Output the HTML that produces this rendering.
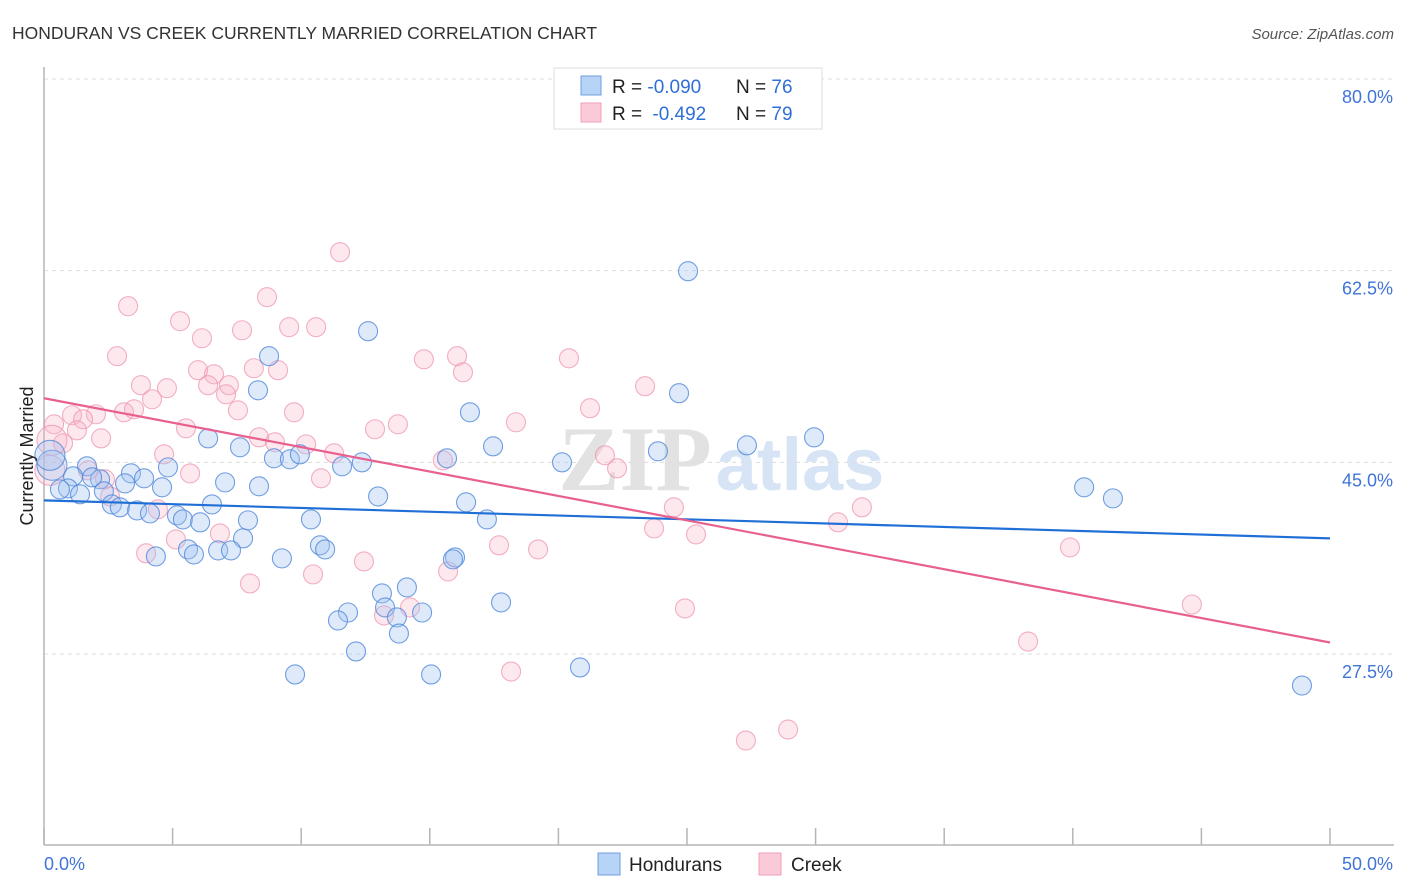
<!DOCTYPE html>
<html><head><meta charset="utf-8">
<style>
body{margin:0;background:#fff;font-family:"Liberation Sans",sans-serif;}
svg{display:block}
</style></head>
<body>
<svg id="chart" width="1406" height="892">
<text x="12" y="39" font-size="17.5" fill="#333">HONDURAN VS CREEK CURRENTLY MARRIED CORRELATION CHART</text>
<text x="1394" y="39" font-size="15" fill="#555" font-style="italic" text-anchor="end">Source: ZipAtlas.com</text>
<g>
<text x="635" y="490" font-size="92" fill="#e2e2e2" text-anchor="middle" font-family="Liberation Serif,serif" font-weight="bold">ZIP</text>
<text x="800" y="490" font-size="74" fill="#d6e4f6" text-anchor="middle" font-weight="bold">atlas</text>
</g>
<g id="grid"></g>
<g id="axes"></g>
<g id="pts"></g>
<g id="lines"></g>
<text transform="translate(33,456) rotate(-90)" font-size="18" fill="#222" text-anchor="middle">Currently Married</text>
<g>
<rect x="554" y="68" width="268" height="61" fill="#fff" stroke="#ddd"/>
<rect x="581" y="76" width="20" height="19" fill="#b7d3f5" stroke="#6f9fe0"/>
<rect x="581" y="103" width="20" height="19" fill="#fbcad8" stroke="#f0a0b8"/>
<text x="612" y="93" font-size="19" fill="#222">R = <tspan fill="#2f6fd6">-0.090</tspan></text>
<text x="736" y="93" font-size="19" fill="#222">N = <tspan fill="#2f6fd6">76</tspan></text>
<text x="612" y="120" font-size="19" fill="#222">R = <tspan fill="#2f6fd6" dx="5">-0.492</tspan></text>
<text x="736" y="120" font-size="19" fill="#222">N = <tspan fill="#2f6fd6">79</tspan></text>
</g>
<g>
<rect x="598" y="853" width="22" height="22" fill="#b7d3f5" stroke="#6f9fe0"/>
<text x="629" y="871" font-size="19" fill="#222">Hondurans</text>
<rect x="759" y="853" width="22" height="22" fill="#fbcad8" stroke="#f0a0b8"/>
<text x="791" y="871" font-size="19" fill="#222">Creek</text>
</g>
</svg>
<script>
const yTicks=[80.0,62.5,45.0,27.5];
const yTickLabels=["80.0%","62.5%","45.0%","27.5%"];
const xTickValues=[0,5,10,15,20,25,30,35,40,45,50];
const xEndLabels=["0.0%","50.0%"];
const blueX=[25.04,12.60,8.75,8.32,24.69,16.56,29.94,27.33,6.38,7.62,17.46,23.87,15.67,8.94,9.56,9.95,11.59,12.36,20.14,4.82,1.67,3.38,3.89,2.18,1.87,1.13,7.04,4.59,3.15,0.93,0.62,1.40,2.33,8.36,12.99,40.44,41.56,6.53,16.41,2.64,2.95,3.62,4.12,5.17,5.40,6.07,7.93,10.38,17.22,7.74,10.73,10.93,6.77,7.27,5.60,5.83,4.35,9.25,15.98,15.90,13.14,14.11,11.82,11.43,13.26,13.72,14.70,13.80,12.13,17.77,20.84,9.76,15.05,48.91,0.31,0.23];
const blueY=[62.45,56.97,54.69,51.58,51.31,49.57,47.28,46.55,47.19,46.37,46.46,46.01,45.37,45.37,45.28,45.73,44.64,45.00,45.00,44.54,44.64,44.00,43.54,43.45,43.63,43.72,43.17,42.72,43.08,42.62,42.53,42.08,42.35,42.81,41.89,42.72,41.71,41.16,41.35,41.16,40.89,40.61,40.34,40.16,39.79,39.52,39.70,39.79,39.79,38.06,37.42,37.05,36.96,36.96,37.05,36.59,36.41,36.23,36.32,36.14,33.03,33.58,31.29,30.56,31.75,30.84,31.29,29.37,27.73,32.21,26.27,25.63,25.63,24.62,44.73,45.64];
const pinkX=[11.51,8.67,3.27,5.29,9.53,10.58,7.70,6.14,2.84,16.06,14.77,20.41,16.29,8.16,9.10,5.99,6.61,3.77,4.78,6.38,7.19,23.37,7.08,4.20,7.54,3.11,3.50,2.02,1.09,1.52,21.23,18.35,9.72,13.76,12.87,0.39,1.28,5.52,2.22,0.74,8.36,8.98,10.19,11.28,4.67,15.51,21.81,22.28,5.68,1.71,10.77,2.37,2.57,4.43,24.49,31.80,30.87,23.72,25.35,6.84,5.13,17.69,19.21,3.97,12.44,39.89,15.71,10.46,8.01,44.63,24.92,14.23,13.22,38.26,18.16,28.93,27.29,0.31,0.23];
const pinkY=[64.19,60.08,59.26,57.89,57.34,57.34,57.06,56.33,54.69,54.69,54.41,54.50,53.22,53.59,53.41,53.41,53.04,52.04,51.77,52.04,52.04,51.95,51.21,50.76,49.75,49.57,49.84,49.39,49.30,48.93,49.94,48.66,49.57,48.47,48.02,48.47,47.92,48.11,47.19,46.74,47.28,46.83,46.64,45.82,45.73,45.18,45.64,44.45,43.99,44.27,43.54,43.45,41.89,40.71,40.89,40.89,39.52,38.97,38.42,38.51,37.96,37.42,37.05,36.69,35.95,37.23,35.04,34.77,33.94,32.02,31.66,31.75,31.02,28.64,25.90,20.60,19.60,47.01,44.27];
const blueTrend=[41.53,38.06];
const pinkTrend=[50.85,28.55];

const NS="http://www.w3.org/2000/svg";
const X0=44,X1=1330,YTOP=79,YBOT=654;
function xs(v){return X0+(v/50)*(X1-X0);}
function ys(v){return YTOP+(80-v)/(80-27.5)*(YBOT-YTOP);}
function mk(tag,attrs,parent){const e=document.createElementNS(NS,tag);for(const k in attrs)e.setAttribute(k,attrs[k]);parent.appendChild(e);return e;}
const grid=document.getElementById('grid'),axes=document.getElementById('axes'),pts=document.getElementById('pts'),lines=document.getElementById('lines');
yTicks.forEach((t,i)=>{
  const l=mk('line',{x1:44,x2:1394,y1:ys(t),y2:ys(t),stroke:'#ddd','stroke-dasharray':'4,4'},grid);
  
  
  const tx=mk('text',{x:1393,y:ys(t)+24,'font-size':18,fill:'#3f74d8','text-anchor':'end'},axes);
  tx.textContent=yTickLabels[i];
  
  
});
mk('line',{x1:44,x2:44,y1:67,y2:845,stroke:'#b5b5b5','stroke-width':1.5},axes);
mk('line',{x1:44,x2:1394,y1:845,y2:845,stroke:'#b5b5b5','stroke-width':1.5},axes);
xTickValues.forEach(v=>{
  const t=mk('line',{x1:xs(v),x2:xs(v),y1:828,y2:845,stroke:'#b5b5b5','stroke-width':1.5},axes);
  
  
});
const xl0=mk('text',{x:44,y:870,'font-size':18,fill:'#3f74d8'},axes);xl0.textContent=xEndLabels[0];


const xl1=mk('text',{x:1393,y:870,'font-size':18,fill:'#3f74d8','text-anchor':'end'},axes);xl1.textContent=xEndLabels[1];


function drawPts(X,Y,fill,stroke,name){
  X.forEach((x,i)=>{
    const big=x<0.35;
    const c=mk('circle',{cx:xs(x),cy:ys(Y[i]),r:big?15:9.5,fill:fill,stroke:stroke,'stroke-width':1.1},pts);
    
    
  });
}
drawPts(pinkX,pinkY,'rgba(248,180,200,0.3)','rgba(238,150,178,0.75)','creek-point');
drawPts(blueX,blueY,'rgba(160,196,240,0.35)','rgba(80,136,218,0.8)','honduran-point');
const bl=mk('line',{x1:xs(0),y1:ys(blueTrend[0]),x2:xs(50),y2:ys(blueTrend[1]),stroke:'#1f6fd6','stroke-width':2.2},lines);


const pl=mk('line',{x1:xs(0),y1:ys(pinkTrend[0]),x2:xs(50),y2:ys(pinkTrend[1]),stroke:'#e8608e','stroke-width':2.2},lines);


</script>
</body></html>
